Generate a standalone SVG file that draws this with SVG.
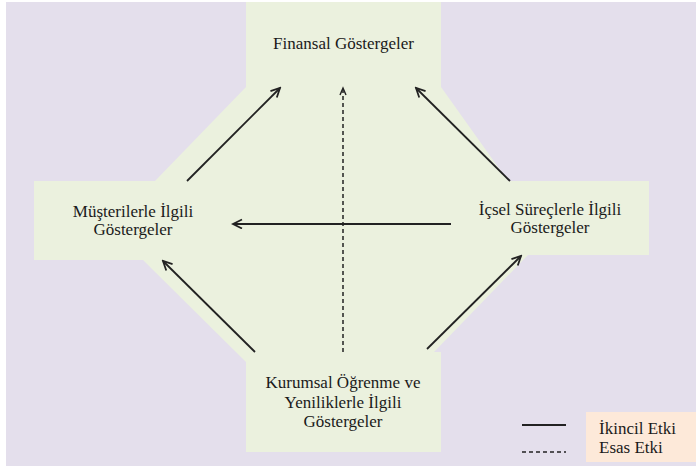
<svg xmlns="http://www.w3.org/2000/svg" width="696" height="468" viewBox="0 0 696 468">
  <defs>
    <style>
      text { font-family: "Liberation Serif", "DejaVu Serif", "Times New Roman", serif; font-size: 17px; fill: #1a1a1a; }
      .lbl { text-anchor: middle; }
      .box { fill: #EBF1DE; stroke: none; }
      .conn { stroke: #222; stroke-width: 1.8; fill: none; }
      .dash { stroke-dasharray: 4 3; stroke-width: 1.5; }
    </style>
    <marker id="arr" markerUnits="userSpaceOnUse" markerWidth="12" markerHeight="12" refX="10" refY="5" orient="auto">
      <path d="M1,0.5 L10,5 L1,9.5" fill="none" stroke="#222" stroke-width="1.8"/>
    </marker>
    <marker id="arrd" markerUnits="userSpaceOnUse" markerWidth="10" markerHeight="10" refX="8" refY="4" orient="auto">
      <path d="M1,1 L8,4 L1,7" fill="none" stroke="#222" stroke-width="1.4"/>
    </marker>
  </defs>

  <rect x="6" y="2" width="690" height="464" fill="#E4DFEC"/>

  <polygon class="box" points="246,2 441,2 441,87 508,181 649,181 649,255 528,255 434,352 441,352 441,452 246,452 246,362 143,260 34,260 34,181 155,181 246,87"/>

  <g id="finansal">
    <rect class="box" x="246" y="2" width="195" height="85"/>
    <text class="lbl" x="343.5" y="49" font-family="Liberation Serif, serif">Finansal Göstergeler</text>
  </g>
  <g id="musteri">
    <rect class="box" x="34" y="181" width="121" height="79"/>
    <text class="lbl" x="133" y="217" font-family="Liberation Serif, serif">Müşterilerle  İlgili</text>
    <text class="lbl" x="133" y="235" font-family="Liberation Serif, serif">Göstergeler</text>
  </g>
  <g id="icsel">
    <rect class="box" x="508" y="181" width="141" height="74"/>
    <text class="lbl" x="550" y="215" font-family="Liberation Serif, serif">İçsel Süreçlerle  İlgili</text>
    <text class="lbl" x="550" y="233" font-family="Liberation Serif, serif">Göstergeler</text>
  </g>
  <g id="kurumsal">
    <rect class="box" x="246" y="352" width="195" height="100"/>
    <text class="lbl" x="343" y="388" font-family="Liberation Serif, serif">Kurumsal Öğrenme ve</text>
    <text class="lbl" x="343" y="408" font-family="Liberation Serif, serif">Yeniliklerle  İlgili</text>
    <text class="lbl" x="343" y="427" font-family="Liberation Serif, serif">Göstergeler</text>
  </g>

  <g id="connectors">
    <line class="conn" x1="187" y1="181" x2="280" y2="88" marker-end="url(#arr)"/>
    <line class="conn" x1="510" y1="181" x2="416" y2="88" marker-end="url(#arr)"/>
    <line class="conn" x1="451" y1="224" x2="233" y2="224" marker-end="url(#arr)"/>
    <line class="conn" x1="255" y1="352" x2="163" y2="261" marker-end="url(#arr)"/>
    <line class="conn" x1="427" y1="349" x2="521" y2="256" marker-end="url(#arr)"/>
    <line class="conn dash" x1="343" y1="352" x2="343" y2="88" marker-end="url(#arrd)"/>
  </g>

  <g id="legend">
    <rect x="586" y="412" width="110" height="50" fill="#FDE9D9"/>
    <line class="conn" x1="522" y1="425" x2="566" y2="425" stroke-width="1.5"/>
    <line class="conn dash" x1="522" y1="452" x2="566" y2="452" stroke-dasharray="5 4"/>
    <text x="599" y="434" font-family="Liberation Serif, serif">İkincil Etki</text>
    <text x="599" y="453" font-family="Liberation Serif, serif">Esas Etki</text>
  </g>
</svg>
